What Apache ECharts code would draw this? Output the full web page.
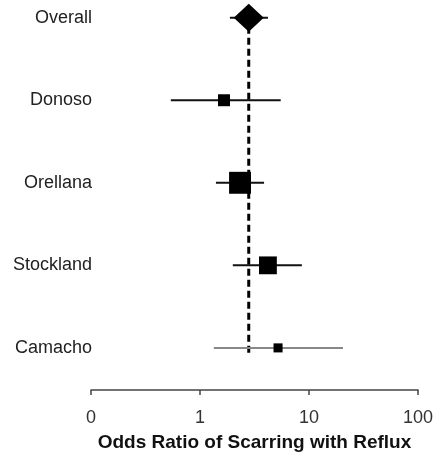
<!DOCTYPE html>
<html>
<head>
<meta charset="utf-8">
<script src="https://cdn.jsdelivr.net/npm/echarts@6/dist/echarts.min.js"></script>
<style>
  html, body { margin: 0; padding: 0; background: #fff; }
  #chart { width: 433px; height: 460px; }
</style>
</head>
<body>
<div id="chart"></div>
<script>
  // studies, top to bottom
  var studies = ['Overall', 'Donoso', 'Orellana', 'Stockland', 'Camacho'];
  var oddsRatio = [2.8, 1.66, 2.33, 4.2, 5.2];
  var lowerCI = [1.88, 0.54, 1.40, 2.0, 1.34];
  var upperCI = [4.2, 5.5, 3.87, 8.6, 20.5];
  var weights = [100, 14, 47, 31, 8];   // study weight (%)
  var xTicks = [0.1, 1, 10, 100];

  // row position: Overall at top
  function rowOf(i) { return studies.length - i; }

  var ciData = [], boxData = [], overallData = [];
  studies.forEach(function (name, i) {
    ciData.push([lowerCI[i], upperCI[i], rowOf(i), i]);
    if (i === 0) {
      overallData.push([oddsRatio[i], rowOf(i)]);
    } else {
      boxData.push({ value: [oddsRatio[i], rowOf(i)], symbolSize: Math.sqrt(weights[i]) * 3.2 });
    }
  });

  var chart = echarts.init(document.getElementById('chart'));
  chart.setOption({
    animation: false,
    textStyle: { fontFamily: 'Liberation Sans, Arial, sans-serif' },
    grid: { left: 91, right: 15, top: 2, bottom: 70, outerBoundsMode: 'none' },
    xAxis: {
      type: 'log',
      logBase: 10,
      min: xTicks[0],
      max: xTicks[xTicks.length - 1],
      name: 'Odds Ratio of Scarring with Reflux',
      nameLocation: 'middle',
      nameGap: 43,
      nameTextStyle: { fontSize: 19, fontWeight: 'bold', color: '#111' },
      axisLine: { show: true, lineStyle: { color: '#444', width: 1.5 } },
      axisTick: { show: true, length: 5, lineStyle: { color: '#444', width: 1.5 } },
      minorTick: { show: false },
      splitLine: { show: false },
      axisLabel: {
        fontSize: 18,
        color: '#333',
        margin: 19,
        formatter: function (v) { return v < 0.5 ? '0' : String(Math.round(v)); }
      }
    },
    yAxis: {
      type: 'value',
      min: 0.49,
      max: 5.19,
      axisLine: { show: false },
      axisTick: { show: false },
      splitLine: { show: false },
      axisLabel: {
        customValues: [1, 2, 3, 4, 5],
        fontSize: 18,
        color: '#222',
        margin: -1,
        formatter: function (v) { return studies[studies.length - Math.round(v)]; }
      }
    },
    series: [
      {
        // line of pooled estimate
        type: 'line',
        data: [[oddsRatio[0], 0.94], [oddsRatio[0], rowOf(0)]],
        symbol: 'none',
        lineStyle: { color: '#000', width: 3, type: [7, 4] },
        z: 1
      },
      {
        type: 'custom',
        data: ciData,
        renderItem: function (params, api) {
          var p1 = api.coord([api.value(0), api.value(2)]);
          var p2 = api.coord([api.value(1), api.value(2)]);
          var grey = api.value(3) === 4;
          return {
            type: 'line',
            shape: { x1: p1[0], y1: p1[1], x2: p2[0], y2: p2[1] },
            style: { stroke: grey ? '#888' : '#111', lineWidth: 2 }
          };
        },
        z: 2
      },
      {
        type: 'scatter',
        symbol: 'rect',
        data: boxData,
        itemStyle: { color: '#000', opacity: 1 },
        z: 3
      },
      {
        type: 'scatter',
        symbol: 'diamond',
        symbolSize: [30, 28],
        data: overallData,
        itemStyle: { color: '#000', opacity: 1 },
        z: 3
      }
    ]
  });
</script>
</body>
</html>
